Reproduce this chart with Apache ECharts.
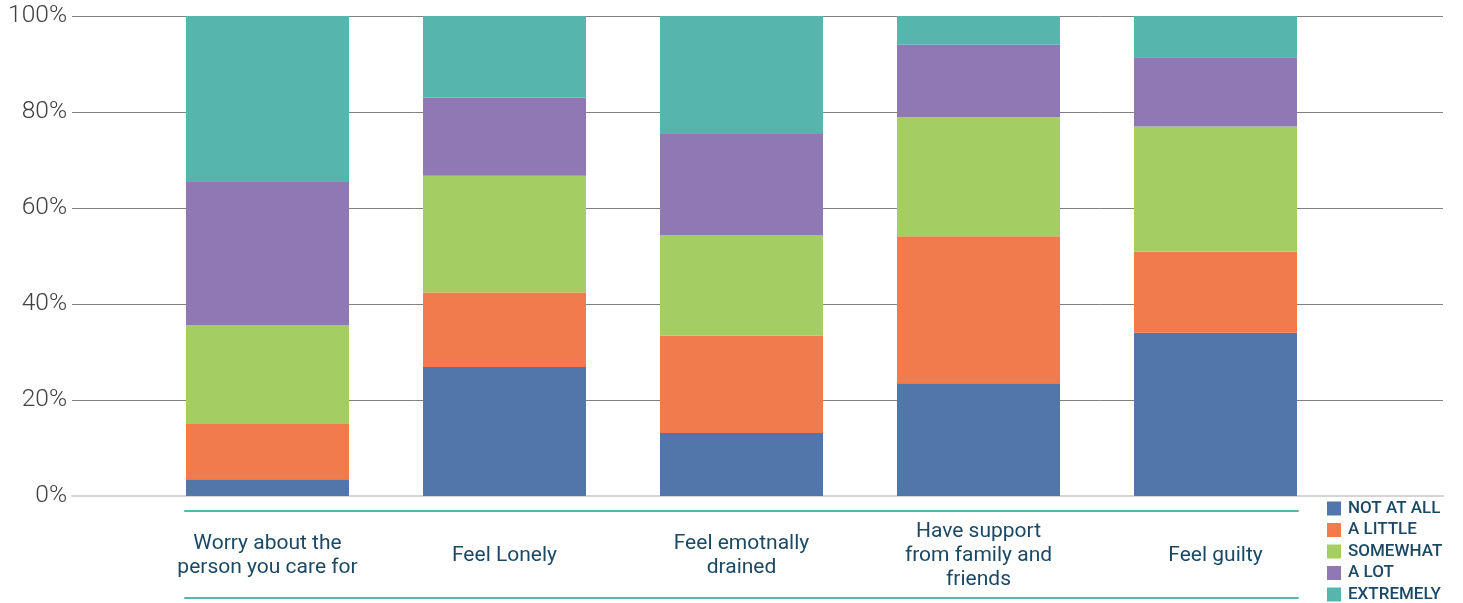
<!DOCTYPE html>
<html>
<head>
<meta charset="utf-8">
<script src="https://cdn.jsdelivr.net/npm/echarts@6/dist/echarts.min.js"></script>
<style>
html,body{margin:0;padding:0;background:#fff;}
#chart{width:1463px;height:603px;}
</style>
</head>
<body>
<div id="chart"></div>
<script>
const categories = [
  "Worry about the\nperson you care for",
  "Feel Lonely",
  "Feel emotnally\ndrained",
  "Have support\nfrom family and\nfriends",
  "Feel guilty"
];
const seriesNames = ["NOT AT ALL", "A LITTLE", "SOMEWHAT", "A LOT", "EXTREMELY"];
const notAtAll  = [3.5, 26.9, 13.1, 23.5, 34.0];
const aLittle   = [11.5, 15.5, 20.3, 30.6, 16.9];
const somewhat  = [20.6, 24.3, 21.0, 24.8, 26.1];
const aLot      = [29.8, 16.3, 21.0, 15.1, 14.4];
const extremely = [34.6, 17.0, 24.6, 6.0, 8.6];
const yTicks = [0, 20, 40, 60, 80, 100];

const colors = ["#5176aa", "#f27b4d", "#a4ce64", "#8f78b4", "#56b5ad"];
const values = [notAtAll, aLittle, somewhat, aLot, extremely];

const chart = echarts.init(document.getElementById('chart'), null, {renderer: 'canvas'});
const option = {
  animation: false,
  color: colors,
  grid: [
    {left: 72, right: 20, top: 16, bottom: 107},
    {left: 149, right: 129, top: 16, bottom: 107},
    {left: 185, right: 165, top: 16, bottom: 107}
  ],
  legend: {
    orient: 'vertical',
    left: 1327,
    top: 500,
    width: 136,
    height: 200,
    padding: 0,
    itemWidth: 14,
    itemHeight: 14,
    itemGap: 4.5,
    icon: 'rect',
    textStyle: {fontFamily: 'Roboto', fontWeight: 500, fontSize: 17, color: '#1b4965', lineHeight: 17, padding: [0, 0, 0, 2]},
    data: seriesNames
  },
  xAxis: [
    {gridIndex: 0, type: 'value', min: 0, max: 1, axisLabel: {show: false}, axisTick: {show: false},
     splitLine: {show: false}, axisLine: {show: true, onZero: false, lineStyle: {color: '#d4d4d4', width: 2}}},
    {gridIndex: 1, type: 'category', data: categories,
     axisLine: {show: false}, axisTick: {show: false},
     axisLabel: {interval: 0, margin: 60, verticalAlign: 'middle', fontFamily: 'Roboto', fontSize: 21,
                 lineHeight: 24, color: '#1b4965', align: 'center'}},
    {gridIndex: 2, type: 'category', data: categories, position: 'bottom', offset: 15,
     axisLabel: {show: false}, axisTick: {show: false},
     axisLine: {show: true, onZero: false, lineStyle: {color: '#56b5ad', width: 2}}},
    {gridIndex: 2, type: 'category', data: categories, position: 'bottom', offset: 102,
     axisLabel: {show: false}, axisTick: {show: false},
     axisLine: {show: true, onZero: false, lineStyle: {color: '#56b5ad', width: 2}}}
  ],
  yAxis: [
    {gridIndex: 0, type: 'value', min: yTicks[0], max: yTicks[yTicks.length - 1], interval: 20,
     axisLine: {show: false}, axisTick: {show: false},
     axisLabel: {formatter: '{value}%', fontFamily: 'Roboto', fontWeight: 300, fontSize: 24.5, color: '#404040',
                 margin: 5, padding: [5, 0, 0, 0]},
     splitLine: {show: true, lineStyle: {color: '#808080', width: 1}}},
    {gridIndex: 1, type: 'value', min: 0, max: 100, show: false, splitLine: {show: false}},
    {gridIndex: 2, type: 'value', min: 0, max: 100, show: false, splitLine: {show: false}}
  ],
  series: seriesNames.map((name, i) => ({
    name: name,
    type: 'bar',
    stack: 'total',
    xAxisIndex: 1,
    yAxisIndex: 1,
    barWidth: 163,
    itemStyle: {color: colors[i]},
    data: values[i]
  }))
};
chart.setOption(option);
</script>
</body>
</html>
